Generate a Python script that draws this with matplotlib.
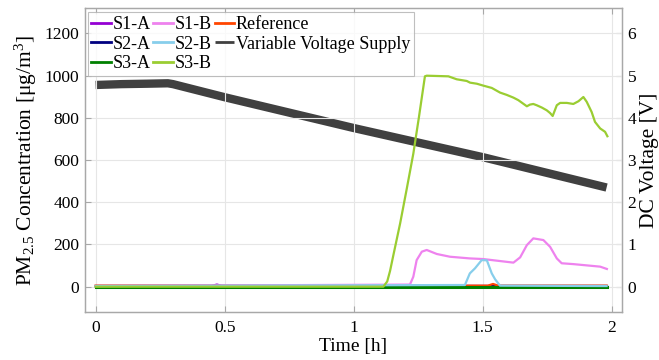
import matplotlib
matplotlib.use("Agg")
import matplotlib.pyplot as plt

plt.rcParams['font.family'] = ['Liberation Serif', 'DejaVu Serif']
plt.rcParams['mathtext.fontset'] = 'custom'
plt.rcParams['mathtext.rm'] = 'Liberation Serif'
plt.rcParams['mathtext.it'] = 'Liberation Serif:italic'

# ---- data ----
t_flat = [0.0, 0.45, 0.47, 0.49, 1.98]
s1a_v = [3, 4, 10, 4, 3]

t_s2a = [0.0, 1.98]
s2a_v = [3, 3]

t_s3a = [0.0, 1.98]
s3a_v = [0, 0]

t_s1b = [0.0, 1.218, 1.231, 1.244, 1.264, 1.283, 1.322, 1.373, 1.450, 1.502,
         1.619, 1.645, 1.671, 1.696, 1.735, 1.761, 1.787, 1.806, 1.851, 1.955, 1.981]
s1b_v = [3, 10, 47, 126, 166, 174, 155, 142, 134, 131,
         114, 139, 197, 229, 221, 189, 134, 111, 107, 95, 84]

t_s2b = [0.0, 1.431, 1.450, 1.470, 1.496, 1.516, 1.535, 1.548, 1.567, 1.98]
s2b_v = [3, 8, 63, 87, 126, 125, 63, 35, 5, 3]

t_s3b = [0.0, 1.115, 1.13, 1.141, 1.153, 1.18, 1.205, 1.231, 1.253, 1.276,
         1.283, 1.367, 1.399, 1.438, 1.451, 1.477, 1.502, 1.535, 1.567, 1.593,
         1.619, 1.638, 1.671, 1.683, 1.696, 1.709, 1.729, 1.748, 1.761, 1.771,
         1.787, 1.800, 1.826, 1.851, 1.871, 1.890, 1.903, 1.922, 1.935, 1.955,
         1.974, 1.983]
s3b_v = [0, 0, 25, 75, 145, 300, 460, 630, 805, 997,
         1000, 997, 983, 975, 967, 962, 953, 942, 920, 909,
         896, 884, 855, 863, 866, 860, 849, 836, 823, 809,
         860, 871, 871, 866, 879, 899, 876, 828, 781, 750,
         734, 713]

t_ref = [0.0, 1.52, 1.54, 1.56, 1.98]
ref_v = [5, 5, 13, 5, 5]

t_volt = [0.0, 0.1, 0.2, 0.28, 0.3, 0.5, 1.0, 1.5, 1.98]
volt_v = [4.78, 4.80, 4.81, 4.82, 4.80, 4.49, 3.76, 3.07, 2.35]

x_ticks = [0, 0.5, 1, 1.5, 2]
x_ticklabels = ['0', '0.5', '1', '1.5', '2']
y_ticks = [0, 200, 400, 600, 800, 1000, 1200]
y2_ticks = [0, 1, 2, 3, 4, 5, 6]

# ---- plot ----
fig = plt.figure(figsize=(6.59, 3.60), dpi=100)
ax = fig.add_axes([0.129, 0.1333, 0.815, 0.844])
ax2 = ax.twinx()
ax.set_zorder(ax2.get_zorder() + 1)
ax.patch.set_visible(False)

lw = 1.6
h_volt, = ax2.plot(t_volt, volt_v, color='#404040', lw=6.0, solid_capstyle='butt',
                   label='Variable Voltage Supply')
h1, = ax.plot(t_flat, s1a_v, color='#9400d3', lw=lw, label='S1-A')
h2, = ax.plot(t_s2a, s2a_v, color='#000080', lw=lw, label='S2-A')
h7, = ax.plot(t_ref, ref_v, color='#ff4500', lw=lw, label='Reference')
h3, = ax.plot(t_s3a, s3a_v, color='#008000', lw=2.2, label='S3-A')
h4, = ax.plot(t_s1b, s1b_v, color='#ee82ee', lw=lw, label='S1-B')
h5, = ax.plot(t_s2b, s2b_v, color='#87ceeb', lw=lw, label='S2-B')
h6, = ax.plot(t_s3b, s3b_v, color='#9acd32', lw=lw, label='S3-B')

ax.set_xlim(-0.041, 2.04)
ax.set_ylim(-120, 1320)
ax2.set_ylim(-0.6, 6.6)

ax.set_xticks(x_ticks)
ax.set_xticklabels(x_ticklabels)
ax.set_yticks(y_ticks)
ax2.set_yticks(y2_ticks)

spine_col = '#a8a8a8'
for a in (ax, ax2):
    for s in a.spines.values():
        s.set_color(spine_col)
        s.set_linewidth(0.9)
    a.tick_params(direction='in', length=4, color=spine_col, labelsize=12.5,
                  labelcolor='black', width=0.8)
ax.tick_params(axis='x', top=True, pad=6)
ax.tick_params(axis='y', pad=4)
ax2.tick_params(axis='y', pad=4)

ax.grid(True, color='#e6e6e6', lw=0.8)
ax.set_axisbelow(True)

ax.set_xlabel('Time [h]', fontsize=14, labelpad=1)
ax.set_ylabel('PM$_{2.5}$ Concentration [μg/m$^3$]', fontsize=15.5)
ax.yaxis.set_label_coords(-0.110, 0.5)
ax.yaxis.label.set_va('center')
ax.yaxis.label.set_ha('center')
ax.yaxis.label.set_rotation_mode('anchor')

ax2.set_ylabel('DC Voltage [V]', fontsize=15.5)
ax2.yaxis.set_label_coords(1.051, 0.5)
ax2.yaxis.label.set_va('center')
ax2.yaxis.label.set_ha('center')
ax2.yaxis.label.set_rotation_mode('anchor')

handles = [h1, h2, h3, h4, h5, h6, h7, h_volt]
leg = ax.legend(handles=handles, ncol=3, loc='upper left', fontsize=13.0,
                bbox_to_anchor=(0.005, 0.986), frameon=True, fancybox=False,
                borderpad=0.2, handlelength=1.1, handletextpad=0.08,
                columnspacing=0.15, labelspacing=0.15, borderaxespad=0.0)
leg.get_frame().set_edgecolor('#b0b0b0')
leg.get_frame().set_linewidth(0.8)
for lh in leg.get_lines():
    lh.set_linewidth(2.0)

fig.savefig('out.png', dpi=100)
